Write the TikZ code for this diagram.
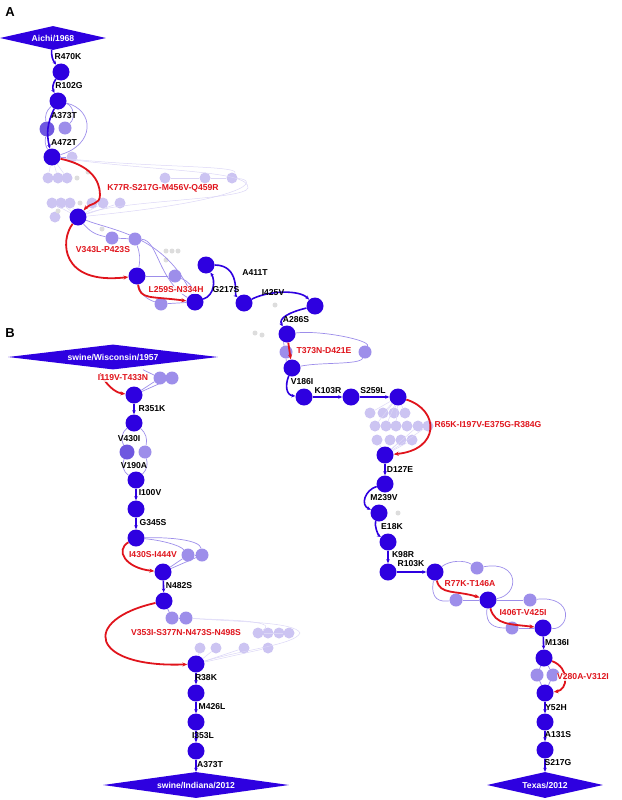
\documentclass[tikz,border=0pt]{standalone}
\usepackage{fontspec}
\setmainfont{Liberation Sans}
\usetikzlibrary{shapes.geometric,arrows.meta}
\definecolor{mb}{HTML}{2E00E0}
\definecolor{lp}{HTML}{9D8EEA}
\definecolor{mp}{HTML}{6F58E0}
\definecolor{fp}{HTML}{CCC4F2}
\definecolor{fg}{HTML}{DDDDDD}
\definecolor{rd}{HTML}{E0141C}
\begin{document}
\begin{tikzpicture}[x=1pt,y=-1pt,
 mn/.style={circle,fill=mb,minimum size=17pt,inner sep=0pt},
 ln/.style={circle,fill=lp,minimum size=13pt,inner sep=0pt},
 mdn/.style={circle,fill=mp,minimum size=15pt,inner sep=0pt},
 fn/.style={circle,fill=fp,minimum size=11pt,inner sep=0pt},
 gn/.style={circle,fill=fg,minimum size=5pt,inner sep=0pt},
 be/.style={draw=mb,line width=1.6pt,-{Stealth[length=4pt,width=3.5pt]}},
 re/.style={draw=rd,line width=1.8pt,-{Stealth[length=5pt,width=4pt]}},
 le/.style={draw=lp,line width=0.7pt},
 fe/.style={draw=fp!70,line width=0.5pt},
 bl/.style={font=\fontsize{8.6}{10}\selectfont\bfseries,text=black,inner sep=0.5pt},
 rl/.style={font=\fontsize{8.6}{10}\selectfont\bfseries,text=rd,fill=white,fill opacity=0.8,text opacity=1,inner sep=0.5pt},
 dia/.style={diamond,fill=mb,aspect=7,inner sep=0pt,font=\fontsize{8.6}{10}\selectfont\bfseries,text=white}]
\useasboundingbox (0,0) rectangle (621,800);
\node[font=\fontsize{13}{14}\selectfont\bfseries] (A) at (10,12) {A};
\node[font=\fontsize{13}{14}\selectfont\bfseries] (B) at (10,333) {B};
% ---------- Panel A ----------
\node[dia,minimum width=106pt,minimum height=24pt] (aichi) at (53,38) {Aichi/1968};
\node[mn] (a1) at (61,72) {};
\node[mn] (a2) at (58,101) {};
\node[mdn] (am1) at (47,129) {};
\node[ln] (al1) at (65,128) {};
\node[mn] (a3) at (52,157) {};
\node[fn] (al2) at (72,157) {};
% faint cluster
\foreach \x/\y [count=\i] in {48/178,58/178,67/178,165/178,205/178,232/178,52/203,61/203,70/203,92/203,103/203,120/203,55/217}
  \node[fn] (af\i) at (\x,\y) {};
\foreach \x/\y [count=\i] in {77/178,88/172,80/203,58/211}
  \node[gn] (ag\i) at (\x,\y) {};
\node[mn] (a4) at (78,217) {};
\node[ln] (al3) at (112,238) {};
\node[ln] (al4) at (135,239) {};
\foreach \x/\y [count=\i] in {102/229,166/251,172/251,178/251,166/260}
  \node[gn] (agg\i) at (\x,\y) {};
\node[mn] (a5) at (137,276) {};
\node[ln] (al5) at (175,276) {};
\node[ln] (al6) at (161,304) {};
\node[mn] (a6) at (195,302) {};
\node[mn] (a7) at (206,265) {};
\node[mn] (a8) at (244,303) {};
\node[gn] (ag5) at (275,305) {};
\node[mn] (a9) at (315,306) {};
\node[gn] (ag6) at (255,333) {};\node[gn] (ag7) at (262,335) {};
\node[mn] (a10) at (287,334) {};
\node[ln] (al7) at (286,352) {};
\node[ln] (al8) at (365,352) {};
\node[mn] (a11) at (292,368) {};
\node[mn] (a12) at (304,397) {};
\node[mn] (a13) at (351,397) {};
\node[mn] (a14) at (398,397) {};
\foreach \x/\y [count=\i] in {370/413,383/413,394/413,405/413,375/426,386/426,396/426,407/426,418/426,428/426,377/440,390/440,401/440,412/440}
  \node[fn] (acl\i) at (\x,\y) {};
\node[mn] (a15) at (385,455) {};
\node[mn] (a16) at (385,484) {};
\node[gn] (ag8) at (398,513) {};
\node[mn] (a17) at (379,513) {};
\node[mn] (a18) at (388,542) {};
\node[mn] (a19) at (388,572) {};
\node[mn] (a20) at (435,572) {};
\node[ln] (al9) at (477,568) {};
\node[ln] (al10) at (456,600) {};
\node[mn] (a21) at (488,600) {};
\node[ln] (al11) at (530,600) {};
\node[ln] (al12) at (512,628) {};
\node[mn] (a22) at (543,628) {};
\node[mn] (a23) at (544,658) {};
\node[ln] (al13) at (537,675) {};
\node[ln] (al14) at (553,675) {};
\node[mn] (a24) at (545,693) {};
\node[mn] (a25) at (545,722) {};
\node[mn] (a26) at (545,750) {};
\node[dia,minimum width=116pt,minimum height=26pt] (texas) at (545,785) {Texas/2012};
% light edges A
\draw[le] (a2) to[bend right=30] (am1); \draw[le] (am1) to[bend right=20] (a3);
\draw[le] (a2) to[bend left=60] (al1); \draw[le] (a2) .. controls (95,110) and (95,145) .. (a3);
\draw[le] (a3) -- (al2);
\foreach \i in {1,2,3} \draw[fe] (a3) -- (af\i);
\draw[fe] (a3) .. controls (150,168) and (240,165) .. (af6);
\draw[fe] (af6) .. controls (260,180) and (250,200) .. (a4);
\draw[fe] (a3) .. controls (160,172) and (250,170) .. (248,188) .. controls (245,200) and (120,200) .. (a4);
\draw[fe] (af4) -- (af5); \draw[fe] (af5) -- (af6);
\foreach \i in {7,8,9,10,11,12} \draw[fe] (af\i) -- (a4);
\draw[le] (a4) to[bend right=20] (al3); \draw[le] (al3) -- (al4);
\draw[le] (al4) to[bend left=15] (a5); \draw[le] (al4) .. controls (158,240) and (158,280) .. (a6);
\draw[le] (a4) .. controls (110,230) and (165,235) .. (a6);
\draw[le] (a5) -- (al5); \draw[le] (al5) to[bend left=30] (a6);
\draw[le] (a5) to[bend right=30] (al6); \draw[le] (al6) -- (a6);
\draw[le] (a10) .. controls (320,330) and (370,340) .. (al8);
\draw[le] (al8) .. controls (360,365) and (320,362) .. (a11);
\draw[le] (a10) to[bend right=20] (al7); \draw[le] (al7) to[bend right=20] (a11);
\foreach \i in {1,2,3,4,5,6,7} \draw[fe] (a14) -- (acl\i);
\foreach \i in {9,10,11,12,13,14} \draw[fe] (acl\i) -- (a15);
\draw[le] (a20) .. controls (450,560) and (465,560) .. (al9);
\draw[le] (al9) .. controls (520,560) and (520,595) .. (a21);
\draw[le] (a20) .. controls (430,600) and (440,602) .. (al10);
\draw[le] (al10) -- (a21);
\draw[le] (a21) -- (al11); \draw[le] (al11) .. controls (575,595) and (570,630) .. (a22);
\draw[le] (a21) .. controls (485,625) and (495,628) .. (al12); \draw[le] (al12) -- (a22);
\draw[le] (a23) -- (al13); \draw[le] (a23) -- (al14);
\draw[le] (al13) -- (a24); \draw[le] (al14) -- (a24);
% main edges A
\draw[be] (aichi) to[bend right=20] (a1);
\draw[be] (a1) to[bend right=30] (a2);
\draw[be] (a2) to[bend right=20] (a3);
\draw[re] (a3) .. controls (90,165) and (100,180) .. (100,195) .. controls (100,205) and (90,203) .. (a4);
\draw[re] (a4) .. controls (60,240) and (60,285) .. (a5);
\draw[re] (a5) .. controls (140,300) and (150,296) .. (a6);
\draw[be] (a6) .. controls (215,295) and (215,280) .. (a7);
\draw[be] (a7) .. controls (240,265) and (235,295) .. (a8);
\draw[be] (a8) .. controls (270,290) and (300,290) .. (a9);
\draw[be] (a9) .. controls (290,312) and (278,318) .. (a10);
\draw[re] (a10) -- (a11);
\draw[be] (a11) .. controls (285,385) and (286,395) .. (a12);
\draw[be] (a12) -- (a13);
\draw[be] (a13) -- (a14);
\draw[re] (a14) .. controls (440,410) and (440,450) .. (a15);
\draw[be] (a15) -- (a16);
\draw[be] (a16) .. controls (365,490) and (360,505) .. (a17);
\draw[be] (a17) .. controls (374,525) and (378,535) .. (a18);
\draw[be] (a18) -- (a19);
\draw[be] (a19) -- (a20);
\draw[re] (a20) .. controls (440,595) and (455,590) .. (a21);
\draw[re] (a21) .. controls (495,625) and (510,624) .. (a22);
\draw[be] (a22) -- (a23);
\draw[re] (a23) .. controls (570,668) and (568,690) .. (a24);
\draw[be] (a24) -- (a25);
\draw[be] (a25) -- (a26);
\draw[be] (a26) -- (texas);
% labels A
\node[bl] (t1) at (68,57) {R470K};
\node[bl] (t2) at (69,86) {R102G};
\node[bl] (t3) at (64,116) {A373T};
\node[bl] (t4) at (64,142) {A472T};
\node[rl] (t5) at (163,188) {K77R-S217G-M456V-Q459R};
\node[rl] (t6) at (103,250) {V343L-P423S};
\node[rl] (t7) at (176,290) {L259S-N334H};
\node[bl] (t8) at (226,290) {G217S};
\node[bl] (t9) at (255,273) {A411T};
\node[bl] (t10) at (273,293) {I425V};
\node[bl] (t11) at (296,320) {A286S};
\node[rl] (t12) at (324,351) {T373N-D421E};
\node[bl] (t13) at (302,382) {V186I};
\node[bl] (t14) at (328,391) {K103R};
\node[bl] (t15) at (373,391) {S259L};
\node[rl] (t16) at (488,425) {R65K-I197V-E375G-R384G};
\node[bl] (t17) at (400,469) {D127E};
\node[bl] (t18) at (384,498) {M239V};
\node[bl] (t19) at (392,527) {E18K};
\node[bl] (t20) at (403,555) {K98R};
\node[bl] (t21) at (411,564) {R103K};
\node[rl] (t22) at (470,584) {R77K-T146A};
\node[rl] (t23) at (523,613) {I406T-V425I};
\node[bl] (t24) at (557,643) {M136I};
\node[rl] (t25) at (583,677) {V280A-V312I};
\node[bl] (t26) at (556,708) {Y52H};
\node[bl] (t27) at (558,735) {A131S};
\node[bl] (t28) at (558,763) {S217G};
% ---------- Panel B ----------
\node[dia,minimum width=210pt,minimum height=25pt] (wisc) at (113,357) {swine/Wisconsin/1957};
\node[ln] (bl1) at (160,378) {};
\node[ln] (bl2) at (172,378) {};
\node[mn] (b1) at (134,395) {};
\node[mn] (b2) at (134,423) {};
\node[mdn] (bm1) at (127,452) {};
\node[ln] (bl3) at (145,452) {};
\node[mn] (b3) at (136,480) {};
\node[mn] (b4) at (136,509) {};
\node[mn] (b5) at (136,538) {};
\node[ln] (bl4) at (188,555) {};
\node[ln] (bl5) at (202,555) {};
\node[mn] (b6) at (163,572) {};
\node[mn] (b7) at (164,601) {};
\node[ln] (bl6) at (172,618) {};
\node[ln] (bl7) at (186,618) {};
\foreach \x/\y [count=\i] in {258/633,268/633,279/633,289/633,200/648,216/648,244/648,268/648}
  \node[fn] (bf\i) at (\x,\y) {};
\node[mn] (b8) at (196,664) {};
\node[mn] (b9) at (196,693) {};
\node[mn] (b10) at (196,722) {};
\node[mn] (b11) at (196,751) {};
\node[dia,minimum width=186pt,minimum height=26pt] (indiana) at (196,785) {swine/Indiana/2012};
% light edges B
\draw[le] (wisc.south) ++(30,0) coordinate (wq) -- (bl1); \draw[le] (bl1) -- (bl2);
\draw[le] (bl1) -- (b1); \draw[le] (bl2) -- (b1);
\draw[le] (b2) to[bend right=40] (bm1); \draw[le] (bm1) to[bend right=40] (b3);
\draw[le] (b2) to[bend left=30] (bl3); \draw[le] (bl3) to[bend left=30] (b3);
\draw[le] (b5) .. controls (160,540) and (180,545) .. (bl4); \draw[le] (bl4) -- (bl5);
\draw[le] (bl4) -- (b6); \draw[le] (bl5) -- (b6);
\draw[le] (b5) .. controls (170,537) and (200,540) .. (bl5);
\draw[le] (b7) -- (bl6); \draw[le] (bl6) -- (bl7);
\draw[fe] (bl7) .. controls (220,620) and (280,620) .. (bf1);
\draw[fe] (bf1) -- (bf4);
\draw[fe] (bl7) .. controls (240,622) and (295,622) .. (300,633) .. controls (295,645) and (240,650) .. (b8);
\foreach \i in {5,6,7,8} \draw[fe] (bf\i) -- (b8);
% main edges B
\draw[re] (wisc.south) ++(-13,4) coordinate (wr) .. controls (110,390) and (118,393) .. (b1);
\draw[be] (b1) -- (b2);
\draw[be] (b4) -- (b5);
\draw[be] (b3) -- (b4);
\draw[re] (b5) .. controls (115,550) and (125,568) .. (b6);
\draw[be] (b6) -- (b7);
\draw[re] (b7) .. controls (80,620) and (90,668) .. (b8);
\draw[be] (b8) -- (b9);
\draw[be] (b9) -- (b10);
\draw[be] (b10) -- (b11);
\draw[be] (b11) -- (indiana);
% labels B
\node[rl] (s1) at (123,378) {I119V-T433N};
\node[bl] (s2) at (152,409) {R351K};
\node[bl] (s3) at (129,439) {V430I};
\node[bl] (s4) at (134,466) {V190A};
\node[bl] (s5) at (150,493) {I100V};
\node[bl] (s6) at (153,523) {G345S};
\node[rl] (s7) at (153,555) {I430S-I444V};
\node[bl] (s8) at (179,586) {N482S};
\node[rl] (s9) at (186,633) {V353I-S377N-N473S-N498S};
\node[bl] (s10) at (206,678) {R38K};
\node[bl] (s11) at (212,707) {M426L};
\node[bl] (s12) at (203,736) {I353L};
\node[bl] (s13) at (210,765) {A373T};
\end{tikzpicture}
\end{document}
